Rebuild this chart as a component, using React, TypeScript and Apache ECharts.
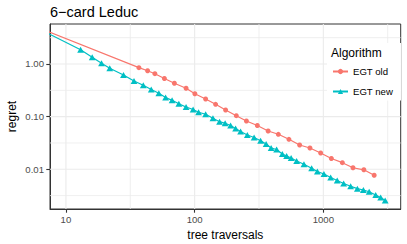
import React, { useEffect, useRef } from "react";
import * as echarts from "echarts";

// Data (raw values; both axes are log10)
const egtOldX = [6, 36.9, 43.1, 49.1, 58.2, 69.6, 85.8, 100.4, 121.7, 145.5, 174, 210.7, 252.5, 306.9, 372.4, 446.9, 540.2, 654.3, 786.8, 952.8, 1154, 1405, 1699, 2064, 2483];
const egtOldY = [5.0, 0.851, 0.743, 0.654, 0.53, 0.43, 0.346, 0.272, 0.216, 0.1716, 0.1338, 0.1042, 0.0827, 0.0679, 0.0534, 0.0462, 0.0371, 0.0289, 0.0254, 0.0204, 0.016, 0.01335, 0.01068, 0.00978, 0.00769];

const egtNewX = [6, 13, 16, 18.9, 21.9, 28, 33.8, 39.9, 46, 52.7, 59.5, 66.8, 75.4, 85.8, 97.3, 107.3, 121.7, 138.7, 156.2, 172.5, 190.3, 208.1, 227.6, 256.6, 289.8, 325.5, 359.3, 392.9, 433.5, 480.1, 518.4, 561.9, 620.2, 706.7, 811, 898.4, 1011, 1140, 1281, 1438, 1630, 1838, 2046, 2270, 2551, 2789, 3023];
const egtNewY = [4.8, 1.87, 1.34, 1.03, 0.832, 0.618, 0.476, 0.394, 0.328, 0.278, 0.231, 0.204, 0.175, 0.1525, 0.1367, 0.121, 0.1108, 0.093, 0.0802, 0.0748, 0.0679, 0.0596, 0.0522, 0.0448, 0.0402, 0.0348, 0.0302, 0.0254, 0.0238, 0.0195, 0.0179, 0.0164, 0.0144, 0.01245, 0.01045, 0.00908, 0.00814, 0.00699, 0.00613, 0.00537, 0.00475, 0.00428, 0.00404, 0.00375, 0.00325, 0.00291, 0.00255];

const xTicks = [10, 100, 1000];
const yTicks = [0.01, 0.1, 1];
const xMinorGrid = [31.62, 316.2, 3162];
const yMinorGrid = [0.00316, 0.0316, 0.316, 3.162];
const xLimits = [7.52, 3990];
const yLimits = [0.00176, 5.75];

const seriesNames = ["EGT old", "EGT new"];
const colors = ["#F8766D", "#00BFC4"];

const lg = (v: number) => Math.log10(v);
const FONT = "Liberation Sans, Arial, Helvetica, sans-serif";

export default function App() {
  const ref = useRef<HTMLDivElement>(null);
  useEffect(() => {
    if (!ref.current) return;
    const chart = echarts.init(ref.current, null, { renderer: "svg" });
    const gridColor = "#EBEBEB";
    const xMin = lg(xLimits[0]);
    const xMax = lg(xLimits[1]);
    const yMin = lg(yLimits[0]);
    const yMax = lg(yLimits[1]);
    const gridSeries = (pts: number[][], width: number) => ({
      type: "line",
      data: pts,
      silent: true,
      symbol: "none",
      z: 1,
      clip: true,
      lineStyle: { color: gridColor, width },
      emphasis: { disabled: true },
      tooltip: { show: false },
    });
    const gridLines: any[] = [
      ...xTicks.map((v) => gridSeries([[lg(v), yMin], [lg(v), yMax]], 1.1)),
      ...xMinorGrid.map((v) => gridSeries([[lg(v), yMin], [lg(v), yMax]], 0.8)),
      ...yTicks.map((v) => gridSeries([[xMin, lg(v)], [xMax, lg(v)]], 1.1)),
      ...yMinorGrid.map((v) => gridSeries([[xMin, lg(v)], [xMax, lg(v)]], 0.8)),
    ];
    chart.setOption({
      animation: false,
      textStyle: { fontFamily: FONT },
      grid: {
        left: 50,
        right: 6.3,
        top: 24,
        bottom: 35,
        show: true,
        borderColor: "#333333",
        borderWidth: 1,
        backgroundColor: "transparent",
        outerBoundsMode: "none",
        containLabel: false,
      },
      xAxis: {
        type: "value",
        min: xMin,
        max: xMax,
        axisLine: { show: true, onZero: false, lineStyle: { color: "#333333", width: 1 } },
        splitLine: { show: false },
        axisTick: { show: true, customValues: xTicks.map(lg), length: 3.7, lineStyle: { color: "#333333", width: 1.1 } },
        axisLabel: {
          customValues: xTicks.map(lg),
          formatter: (v: number) => String(Math.round(Math.pow(10, v))),
          color: "#4D4D4D",
          fontSize: 9.6,
          fontFamily: FONT,
          margin: 5,
        },
        name: "tree traversals",
        nameLocation: "middle",
        nameGap: 17,
        nameTextStyle: { color: "#000000", fontSize: 12, fontFamily: FONT, verticalAlign: "top" },
      },
      yAxis: {
        type: "value",
        min: yMin,
        max: yMax,
        axisLine: { show: true, onZero: false, lineStyle: { color: "#333333", width: 1 } },
        splitLine: { show: false },
        axisTick: { show: true, customValues: yTicks.map(lg), length: 3.7, lineStyle: { color: "#333333", width: 1.1 } },
        axisLabel: {
          customValues: yTicks.map(lg),
          formatter: (v: number) => Math.pow(10, v).toFixed(2),
          color: "#4D4D4D",
          fontSize: 9.6,
          fontFamily: FONT,
          margin: 6,
        },
      },
      legend: {
        data: seriesNames,
        orient: "vertical",
        left: 327,
        top: 43,
        padding: [23.5, 8, 4, 5],
        itemWidth: 15,
        itemHeight: 6.5,
        itemGap: 10,
        z: 10,
        backgroundColor: "#FFFFFF",
        textStyle: { color: "#000000", fontSize: 9.6, fontFamily: FONT },
      },
      graphic: [
        {
          type: "text",
          x: 50,
          y: 11.7,
          z: 100,
          style: { text: "6−card Leduc", fill: "#000000", font: `14.5px ${FONT}`, textAlign: "left", textVerticalAlign: "middle" },
        },
        {
          type: "text",
          x: 11.5,
          y: 116.5,
          rotation: Math.PI / 2,
          z: 100,
          style: { text: "regret", fill: "#000000", font: `12px ${FONT}`, textAlign: "center", textVerticalAlign: "middle" },
        },
        {
          type: "text",
          x: 331,
          y: 53,
          z: 100,
          style: { text: "Algorithm", fill: "#000000", font: `12px ${FONT}`, textAlign: "left", textVerticalAlign: "middle" },
        },
      ],
      series: [
        ...gridLines,
        {
          name: seriesNames[0],
          type: "line",
          z: 3,
          data: egtOldX.map((x, i) => [lg(x), lg(egtOldY[i])]),
          symbol: "circle",
          symbolSize: 5,
          showAllSymbol: true,
          clip: true,
          color: colors[0],
          lineStyle: { color: colors[0], width: 1.2 },
          itemStyle: { color: colors[0] },
        },
        {
          name: seriesNames[1],
          type: "line",
          z: 4,
          data: egtNewX.map((x, i) => [lg(x), lg(egtNewY[i])]),
          symbol: "triangle",
          symbolSize: [6.8, 6],
          showAllSymbol: true,
          clip: true,
          color: colors[1],
          lineStyle: { color: colors[1], width: 1.2 },
          itemStyle: { color: colors[1] },
        },
      ],
    });
    return () => chart.dispose();
  }, []);
  return <div ref={ref} style={{ width: 407, height: 244, position: "absolute", left: 0, top: 0 }} />;
}
